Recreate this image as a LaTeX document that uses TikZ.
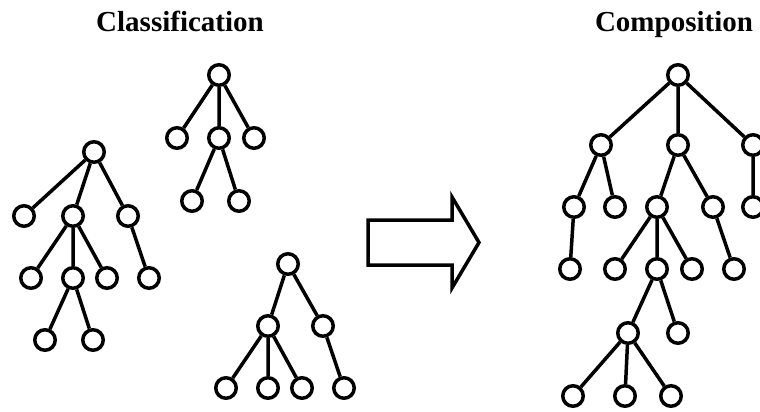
\documentclass[tikz,border=0pt]{standalone}
\usepackage{fontspec}
\setmainfont{Liberation Serif}
\begin{document}
\begin{tikzpicture}[x=1pt,y=-1pt,
  nd/.style={circle,draw,line width=3.5pt,minimum size=20.5pt,inner sep=0pt,fill=white},
  ed/.style={line width=3.5pt},
  ttl/.style={font=\fontsize{29}{34}\selectfont\bfseries,inner sep=0pt,anchor=base}]
\useasboundingbox (0,0) rectangle (760,412);
% titles
\node[ttl] (t1) at (180,32) {Classification};
\node[ttl] (t2) at (674,32) {Composition};
% Tree A
\node[nd] (a0) at (219,75) {};
\node[nd] (a1) at (177,138) {};
\node[nd] (a2) at (219,138) {};
\node[nd] (a3) at (254,138) {};
\node[nd] (a21) at (192,201) {};
\node[nd] (a22) at (239,201) {};
\draw[ed] (a0)--(a1) (a0)--(a2) (a0)--(a3) (a2)--(a21) (a2)--(a22);
% Tree B
\node[nd] (b0) at (94,152) {};
\node[nd] (b1) at (24,216) {};
\node[nd] (b2) at (73,216) {};
\node[nd] (b3) at (128,216) {};
\node[nd] (b21) at (31,278) {};
\node[nd] (b22) at (73,278) {};
\node[nd] (b23) at (107,278) {};
\node[nd] (b31) at (149,278) {};
\node[nd] (b221) at (45,340) {};
\node[nd] (b222) at (93,340) {};
\draw[ed] (b0)--(b1) (b0)--(b2) (b0)--(b3) (b2)--(b21) (b2)--(b22) (b2)--(b23)
  (b3)--(b31) (b22)--(b221) (b22)--(b222);
% Tree C
\node[nd] (c0) at (288,264) {};
\node[nd] (c1) at (268,326) {};
\node[nd] (c2) at (323,326) {};
\node[nd] (c11) at (226,388) {};
\node[nd] (c12) at (268,388) {};
\node[nd] (c13) at (302,388) {};
\node[nd] (c21) at (344,388) {};
\draw[ed] (c0)--(c1) (c0)--(c2) (c1)--(c11) (c1)--(c12) (c1)--(c13) (c2)--(c21);
% block arrow
\draw[line width=3.5pt,line join=miter] (368,220) -- (452,220) -- (452,197) -- (479,242.5)
  -- (452,288) -- (452,265) -- (368,265) -- cycle;
% Composition tree
\node[nd] (d0) at (678,75) {};
\node[nd] (d1) at (601,145) {};
\node[nd] (d2) at (678,145) {};
\node[nd] (d3) at (753,145) {};
\node[nd] (d11) at (574,207) {};
\node[nd] (d12) at (615,207) {};
\node[nd] (d21) at (657,207) {};
\node[nd] (d22) at (713,207) {};
\node[nd] (d31) at (753,207) {};
\node[nd] (d111) at (570,269) {};
\node[nd] (d211) at (615,269) {};
\node[nd] (d212) at (657,269) {};
\node[nd] (d213) at (692,269) {};
\node[nd] (d221) at (734,269) {};
\node[nd] (e1) at (628,333) {};
\node[nd] (e2) at (678,333) {};
\node[nd] (e11) at (573,396) {};
\node[nd] (e12) at (625,396) {};
\node[nd] (e13) at (671,396) {};
\draw[ed] (d0)--(d1) (d0)--(d2) (d0)--(d3) (d1)--(d11) (d1)--(d12) (d2)--(d21) (d2)--(d22)
  (d3)--(d31) (d11)--(d111) (d21)--(d211) (d21)--(d212) (d21)--(d213) (d22)--(d221)
  (d212)--(e1) (d212)--(e2) (e1)--(e11) (e1)--(e12) (e1)--(e13);
\end{tikzpicture}
\end{document}
